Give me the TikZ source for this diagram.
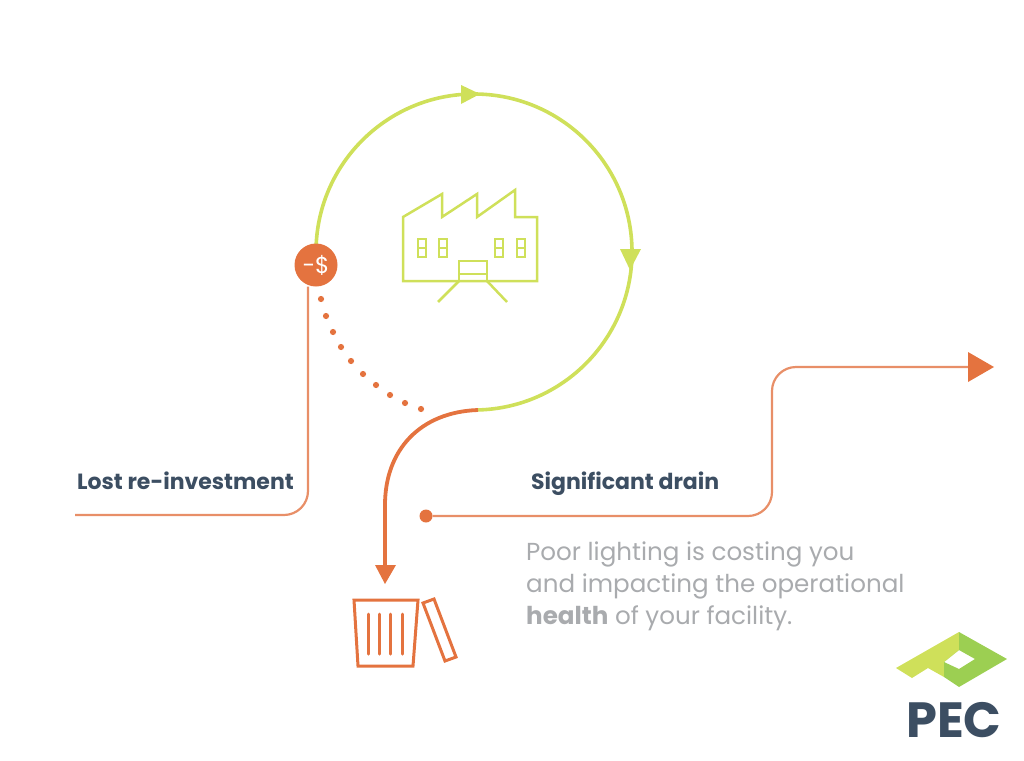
\documentclass[tikz,border=0pt]{standalone}
\usepackage{fontspec}
\setmainfont{Poppins}
\usetikzlibrary{arrows.meta}
\definecolor{pecorange}{HTML}{E4733F}
\definecolor{pecline}{HTML}{E88F68}
\definecolor{peclime}{HTML}{CFE05A}
\definecolor{pecgreen}{HTML}{9CCF52}
\definecolor{pecnavy}{HTML}{3C4E62}
\definecolor{pecgrey}{HTML}{A9ABAE}
\tikzset{>=stealth}
\tikzset{
    thinline/.style={pecline, line width=2.2pt},
    loopline/.style={peclime, line width=3.6pt},
    building/.style={peclime, line width=2.5pt},
    binline/.style={pecorange, line width=3pt},
    heading/.style={pecnavy, font=\fontsize{22}{26}\selectfont\bfseries, anchor=base west, inner sep=0pt},
}
\begin{document}
\begin{tikzpicture}[x=1pt, y=-1pt]
    \useasboundingbox (0,0) rectangle (1024,760);
    \coordinate (lostStart) at (75,515);
    \coordinate (lostCorner) at (308,515);
    \coordinate (joinPt) at (478,410);
    \coordinate (binTip) at (385,584);
    \coordinate (drainEnd) at (994,367);

    % the loop
    \draw [loopline] (316,252) arc (180:448.5:158);
    \fill [peclime] (461,85) -- (480,94) -- (461,104) -- cycle;
    \fill [peclime] (620,249) -- (641,249) -- (630,270) -- cycle;

    % lost re-investment
    \node [circle, fill=pecorange, minimum size=43pt, inner sep=0pt, text=white,
        font=\fontsize{23}{26}\selectfont] (cost) at (316,265) {-\$};
    \draw [thinline, rounded corners=24pt] (lostStart) -- (lostCorner) -- (lostCorner |- cost.south);
    \node [heading] (lostLabel) at (77,489) {Lost re-investment};

    % dots
    \foreach \px/\py in {321/299, 326/316, 333/332, 341/347, 351/361, 363/374, 376/385, 390/395, 405/403, 421/409}
        \fill [pecorange] (\px,\py) circle (3.1pt);

    % drain
    \draw [pecorange, line width=3.8pt] (joinPt) .. controls (420,412) and (385,450) .. (385,505) -- (385,566);
    \fill [pecorange] (375,565) -- (396,565) -- (binTip) -- cycle;

    \node [circle, fill=pecorange, minimum size=13pt, inner sep=0pt] (drainDot) at (426,516) {};
    \coordinate (stepA) at (772,516);
    \coordinate (stepB) at (772,367);
    \draw [thinline, rounded corners=24pt] (drainDot) -- (stepA) -- (stepB) -- (970,367);
    \fill [pecorange] (968,352) -- (drainEnd) -- (968,382) -- cycle;
    \node [heading] (drainLabel) at (531,489) {Significant drain};

    % grey text
    \node [pecgrey, font=\fontsize{24.6}{32}\selectfont, anchor=north west, inner sep=0pt, align=left] (bodyText) at (526,542)
        {Poor lighting is costing you\\and impacting the operational\\\textbf{health} of your facility.};

    % factory
    \draw [building, line join=miter] (403,217) -- (442,194) -- (442,217) -- (477,194) -- (477,217) -- (515,190) -- (515,217)
        -- (537,217) -- (537,281) -- (403,281) -- cycle;
    \draw [building] (459,281) -- (459,261) -- (487,261) -- (487,281);
    \draw [building] (459,274) -- (487,274);
    \draw [building] (459,281) -- (438,302);
    \draw [building] (487,281) -- (507,302);
    \foreach \wx in {418, 439, 495, 517} {
        \draw [building] (\wx,239) rectangle (\wx+8,257);
        \draw [building] (\wx,248) -- (\wx+8,248);
    }

    % bin
    \draw [binline] (354,600) -- (418,600) -- (413,666) -- (358,666) -- cycle;
    \foreach \bx in {368, 379, 390, 402}
        \draw [binline, line cap=round] (\bx,614) -- (\bx,654);
    \draw [binline] (423,603) -- (434,599) -- (456,657) -- (445,661) -- cycle;

    % logo
    \fill [peclime] (896,668) -- (959,632) -- (959,650) -- (944,662) -- (944,677) -- (928,668) -- (912,678) -- cycle;
    \fill [pecgreen, even odd rule] (959,632) -- (1007,659) -- (959,687) -- (944,677) -- (944,662) -- (959,650) -- cycle
        (959,650) -- (975,659) -- (959,669) -- (944,662) -- cycle;
    \node [pecnavy, font=\fontsize{49.5}{52}\selectfont\bfseries, inner sep=0pt] (pecName) at (954,720) {PEC};
\end{tikzpicture}
\end{document}
